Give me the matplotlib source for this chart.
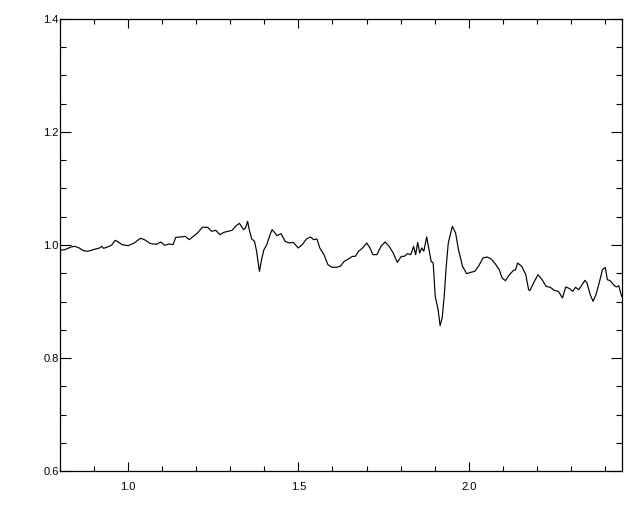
import matplotlib
matplotlib.use("Agg")
import matplotlib.pyplot as plt
from matplotlib.ticker import MultipleLocator

# Dati (nolasīti no attēla)
wave = [0.800, 0.8144, 0.8323, 0.8443, 0.8563, 0.8683, 0.8802, 0.8922, 0.9042, 0.9162,
        0.9222, 0.9281, 0.9401, 0.9521, 0.9617, 0.9701, 0.982, 1.000, 1.018, 1.0359,
        1.0479, 1.0659, 1.0838, 1.0958, 1.1078, 1.1198, 1.1317, 1.1401, 1.1557, 1.1677,
        1.1796, 1.1916, 1.2036, 1.218, 1.2335, 1.2455, 1.2575, 1.2695, 1.2814, 1.2934,
        1.3054, 1.315, 1.3269, 1.3389, 1.3449, 1.3509, 1.3557, 1.3629, 1.3713, 1.3772,
        1.3856, 1.3928, 1.3988, 1.4072, 1.4168, 1.4228, 1.4311, 1.4371, 1.4491, 1.4611,
        1.473, 1.485, 1.4994, 1.5114, 1.5234, 1.5353, 1.5449, 1.5545, 1.5629, 1.5749,
        1.5868, 1.5988, 1.6108, 1.6228, 1.6347, 1.6467, 1.6587, 1.6671, 1.6766, 1.6886,
        1.7006, 1.7102, 1.7186, 1.7305, 1.7425, 1.7545, 1.7665, 1.7784, 1.7904, 1.8024,
        1.8108, 1.8204, 1.8299, 1.8383, 1.8443, 1.8503, 1.8563, 1.8623, 1.8683, 1.8766,
        1.8826, 1.8898, 1.8958, 1.9018, 1.9102, 1.9162, 1.9222, 1.9281, 1.9341, 1.9401,
        1.9521, 1.9617, 1.970, 1.982, 1.994, 2.006, 2.018, 2.0299, 2.0419, 2.0539,
        2.0659, 2.0778, 2.0898, 2.0982, 2.1078, 2.1198, 2.1317, 2.1377, 2.1437, 2.1557,
        2.1677, 2.176, 2.1796, 2.1916, 2.2036, 2.2156, 2.2275, 2.2395, 2.2515, 2.2635,
        2.2754, 2.285, 2.297, 2.3054, 2.3138, 2.3234, 2.3329, 2.3413, 2.3473, 2.3569,
        2.3653, 2.3737, 2.3832, 2.3928, 2.4012, 2.4072, 2.4156, 2.4251, 2.4335, 2.4407,
        2.449]
flux = [0.9906, 0.9917, 0.9965, 0.9976, 0.9947, 0.990, 0.9888, 0.9906, 0.9929, 0.9947,
        0.9976, 0.9941, 0.9965, 1.000, 1.0083, 1.0059, 1.0006, 0.9988, 1.0035, 1.0118,
        1.0094, 1.0024, 1.0012, 1.0053, 0.9994, 1.0018, 1.0006, 1.0136, 1.0142, 1.0153,
        1.0094, 1.0153, 1.0212, 1.0313, 1.0313, 1.0242, 1.026, 1.0183, 1.0224, 1.0242,
        1.026, 1.033, 1.0383, 1.0271, 1.0301, 1.0419, 1.0271, 1.0106, 1.0065, 0.9888,
        0.9534, 0.977, 0.9917, 1.0006, 1.0183, 1.0271, 1.0212, 1.0165, 1.0201, 1.0065,
        1.0035, 1.0047, 0.9947, 1.0006, 1.0106, 1.0142, 1.0094, 1.0106, 0.9947, 0.9829,
        0.9652, 0.9605, 0.9605, 0.9622, 0.9711, 0.9752, 0.9799, 0.9799, 0.9888, 0.9947,
        1.0035, 0.9947, 0.9829, 0.9829, 0.9976, 1.0053, 0.9976, 0.9858, 0.9693, 0.9799,
        0.9799, 0.9847, 0.9829, 0.9976, 0.9829, 1.0047, 0.9858, 0.9947, 0.9888, 1.0142,
        0.9947, 0.9711, 0.9681, 0.9091, 0.8855, 0.8572, 0.8708, 0.9091, 0.9622, 1.0035,
        1.033, 1.0212, 0.9917, 0.9622, 0.9493, 0.9516, 0.9534, 0.9634, 0.977, 0.9788,
        0.9752, 0.967, 0.9563, 0.9416, 0.9369, 0.9475, 0.9552, 0.9563, 0.9681, 0.9622,
        0.9475, 0.9209, 0.9192, 0.9339, 0.9475, 0.9386, 0.9268, 0.9251, 0.9198, 0.918,
        0.9062, 0.9257, 0.9227, 0.918, 0.9251, 0.9209, 0.9298, 0.9375, 0.9327, 0.9121,
        0.9003, 0.9121, 0.9327, 0.9563, 0.9605, 0.9386, 0.9369, 0.9298, 0.9257, 0.928,
        0.9091]

x_ticks = [1.0, 1.5, 2.0]
y_ticks = [0.6, 0.8, 1.0, 1.2, 1.4]

plt.rcParams['font.family'] = ['Liberation Sans', 'DejaVu Sans']

fig = plt.figure(figsize=(6.4, 5.12), dpi=100)
ax = fig.add_axes([0.09375, 0.08, 0.878, 0.883])
ax.plot(wave, flux, color='black', linewidth=0.85)

ax.set_xlim(0.8, 2.45)
ax.set_ylim(0.6, 1.4)
ax.set_xticks(x_ticks)
ax.set_xticklabels(['%.1f' % t for t in x_ticks])
ax.set_yticks(y_ticks)
ax.set_yticklabels(['%.1f' % t for t in y_ticks])
ax.xaxis.set_minor_locator(MultipleLocator(0.1))
ax.yaxis.set_minor_locator(MultipleLocator(0.05))

ax.tick_params(axis='x', which='both', direction='in', top=True, labelsize=8, pad=8, width=0.8)
ax.tick_params(axis='y', which='both', direction='in', right=True, labelsize=8, pad=1, width=0.8)
ax.tick_params(axis='x', which='major', length=6.5)
ax.tick_params(axis='x', which='minor', length=3.5)
ax.tick_params(axis='y', which='major', length=8)
ax.tick_params(axis='y', which='minor', length=4.5)
for s in ax.spines.values():
    s.set_linewidth(0.9)

fig.savefig('out.png', dpi=100)
